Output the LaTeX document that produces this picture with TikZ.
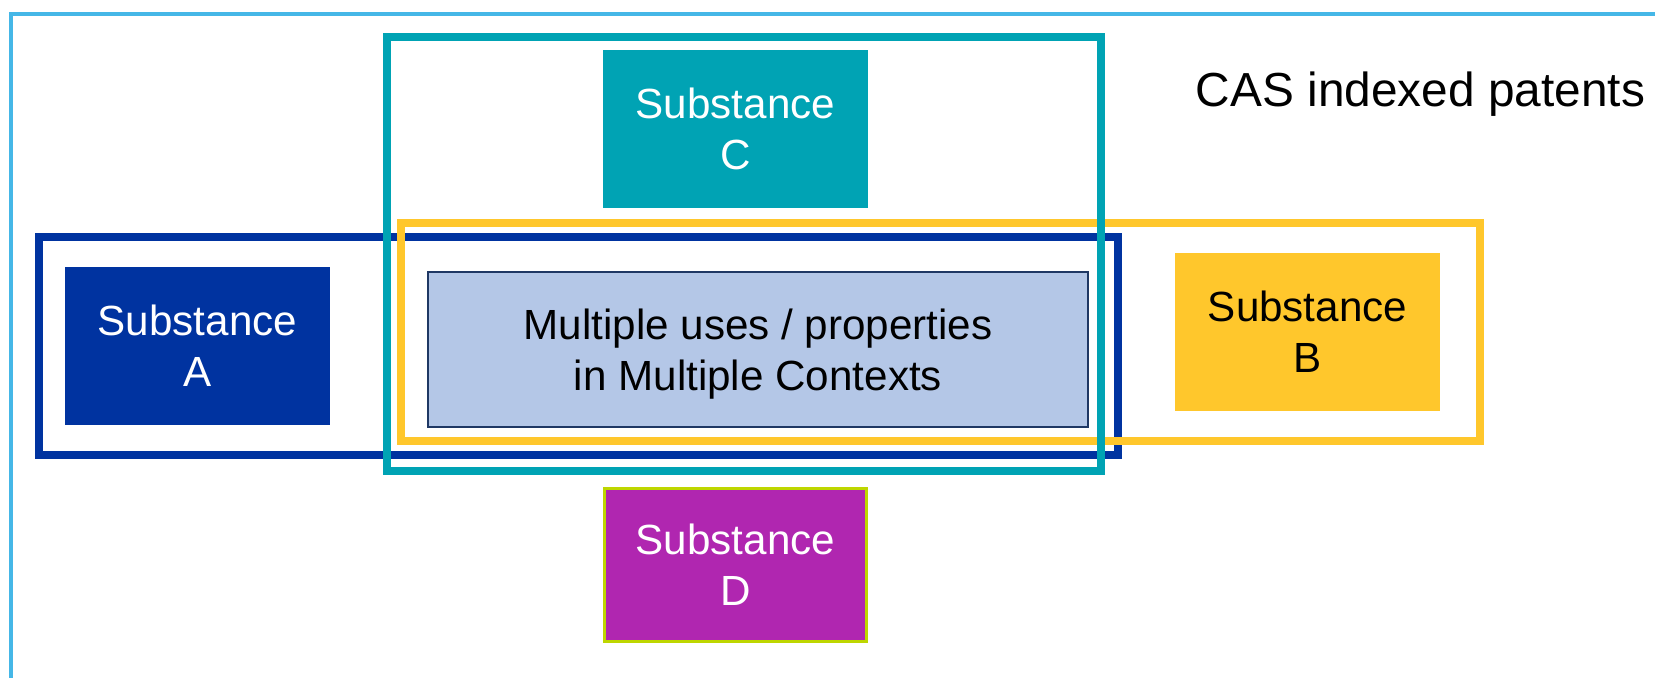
\documentclass[tikz,border=0pt]{standalone}
\usepackage{fontspec}
\setmainfont{Liberation Sans}
\usepackage{tikz}
\definecolor{casblue}{RGB}{69,183,231}
\definecolor{subsA}{RGB}{0,51,160}
\definecolor{subsB}{RGB}{255,199,44}
\definecolor{subsC}{RGB}{0,163,180}
\definecolor{subsD}{RGB}{176,38,176}
\definecolor{usesfill}{RGB}{180,199,231}
\definecolor{usesline}{RGB}{31,56,100}
\definecolor{limeline}{RGB}{190,214,0}
\tikzstyle{setframe} = [draw, rectangle, line width=2.3pt, minimum width=10.79cm, minimum height=2.18cm, inner sep=0pt]
\tikzstyle{substance} = [rectangle, minimum width=2.65cm, minimum height=1.58cm, inner sep=0pt, align=center, text=white, font=\fontsize{12}{14.5}\selectfont]

\begin{document}
\begin{tikzpicture}
		\useasboundingbox (0,0) rectangle (16.55,-6.77);
		\clip (0,0) rectangle (16.55,-6.77);
		\node[draw=casblue, line width=1.1pt, minimum width=17cm, minimum height=7cm, anchor=north west] (patents) at (0.09,-0.12) {};
		\node[font=\fontsize{13.6}{16}\selectfont, anchor=base] (cas) at (14.205,-1.06) {CAS indexed patents};

		\node[setframe, draw=subsA] (frameA) at (5.785,-3.46) {};
		\node[setframe, draw=subsB] (frameB) at (9.405,-3.32) {};
		\node[setframe, draw=subsC, minimum width=7.145cm, minimum height=4.34cm] (frameC) at (7.44,-2.54) {};

		\node[substance, fill=subsA] (subA) at (1.975,-3.46) {Substance\\A};
		\node[substance, fill=subsB, text=black] (subB) at (13.075,-3.32) {Substance\\B};
		\node[substance, fill=subsC] (subC) at (7.355,-1.29) {Substance\\C};
		\node[substance, fill=subsD, draw=limeline, line width=0.85pt, minimum width=2.62cm, minimum height=1.53cm] (subD) at (7.355,-5.65) {Substance\\D};
		\node[substance, fill=usesfill, draw=usesline, line width=0.7pt, text=black, text depth=0pt, minimum width=6.6cm, minimum height=1.55cm] (uses) at (7.58,-3.495) {Multiple uses / properties\\in Multiple Contexts};
	\end{tikzpicture}
\end{document}
